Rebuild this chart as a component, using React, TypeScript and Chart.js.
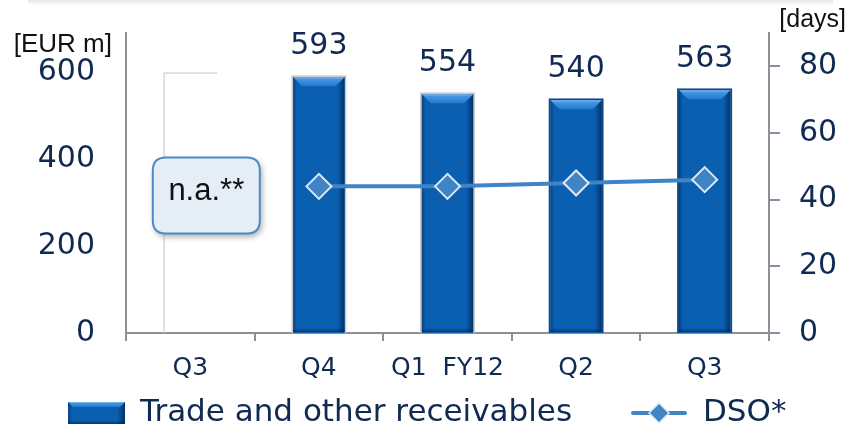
import React, { useEffect, useRef } from 'react';
import { Chart, registerables } from 'chart.js';

Chart.register(...registerables);

// ---- data ----
const categories = ['Q3', 'Q4', 'Q1  FY12', 'Q2', 'Q3'];
const receivables: (number | null)[] = [null, 593, 554, 540, 563];
const dsoDays: (number | null)[] = [null, 44, 44, 45, 46];
const notAvailableFrame: (number | null)[] = [600, null, null, null, null];
const leftTicks = [0, 200, 400, 600];
const rightTicks = [0, 20, 40, 60, 80];
const seriesLabels = ['Trade and other receivables', 'DSO*'];
const leftUnit = '[EUR m]';
const rightUnit = '[days]';
const naText = 'n.a.**';

const NAVY = '#102a52';
const AXIS = '#8e9099';
const LINE = '#3f84c4';
const NUM_FONT = 'DejaVu Sans, Verdana, sans-serif';
const TXT_FONT = 'Liberation Sans, Arial, sans-serif';

function bevel(ctx: CanvasRenderingContext2D, left: number, top: number, right: number, bottom: number, b: number) {
  const w = right - left;
  const h = bottom - top;
  ctx.save();
  ctx.fillStyle = '#0a5fb0';
  ctx.fillRect(left, top, w, h);
  const g = ctx.createLinearGradient(left, 0, right, 0);
  g.addColorStop(0, 'rgba(0,30,80,0.45)');
  g.addColorStop(0.07, 'rgba(0,30,80,0)');
  g.addColorStop(0.86, 'rgba(0,20,60,0)');
  g.addColorStop(1, 'rgba(0,20,60,0.6)');
  ctx.fillStyle = g;
  ctx.fillRect(left, top, w, h);
  // top bevel
  ctx.beginPath();
  ctx.moveTo(left, top);
  ctx.lineTo(right, top);
  ctx.lineTo(right - b, top + b);
  ctx.lineTo(left + b, top + b);
  ctx.closePath();
  const tg = ctx.createLinearGradient(0, top, 0, top + b);
  tg.addColorStop(0, '#8cc2f2');
  tg.addColorStop(0.25, '#4595e2');
  tg.addColorStop(1, '#2379cf');
  ctx.fillStyle = tg;
  ctx.fill();
  // bottom shade
  const bg = ctx.createLinearGradient(0, bottom - 4, 0, bottom);
  bg.addColorStop(0, 'rgba(0,20,60,0)');
  bg.addColorStop(1, 'rgba(0,20,60,0.5)');
  ctx.fillStyle = bg;
  ctx.fillRect(left, bottom - 4, w, 4);
  ctx.restore();
}

function roundRect(ctx: CanvasRenderingContext2D, x: number, y: number, w: number, h: number, r: number) {
  ctx.beginPath();
  ctx.moveTo(x + r, y);
  ctx.lineTo(x + w - r, y);
  ctx.quadraticCurveTo(x + w, y, x + w, y + r);
  ctx.lineTo(x + w, y + h - r);
  ctx.quadraticCurveTo(x + w, y + h, x + w - r, y + h);
  ctx.lineTo(x + r, y + h);
  ctx.quadraticCurveTo(x, y + h, x, y + h - r);
  ctx.lineTo(x, y + r);
  ctx.quadraticCurveTo(x, y, x + r, y);
  ctx.closePath();
}

const decorPlugin = {
  id: 'decor',
  afterDatasetDraw(chart: any, args: any) {
    if (args.index !== 1) return;
    const ctx: CanvasRenderingContext2D = chart.ctx;
    args.meta.data.forEach((el: any, i: number) => {
      if (receivables[i] == null) return;
      const { x, y, base, width } = el.getProps(['x', 'y', 'base', 'width'], true);
      bevel(ctx, x - width / 2 + 2, y + 2, x + width / 2 - 2, base - 1, 9);
    });
  },
  afterDatasetsDraw(chart: any) {
    const ctx: CanvasRenderingContext2D = chart.ctx;
    const meta = chart.getDatasetMeta(1);
    ctx.save();
    ctx.fillStyle = NAVY;
    ctx.font = `30px ${NUM_FONT}`;
    ctx.textAlign = 'center';
    ctx.textBaseline = 'middle';
    meta.data.forEach((el: any, i: number) => {
      const v = receivables[i];
      if (v == null) return;
      ctx.fillText(String(v), el.x, el.y - 29);
    });
    ctx.restore();
  },
  afterDraw(chart: any) {
    const ctx: CanvasRenderingContext2D = chart.ctx;
    const xs = chart.scales.x;
    const ys = chart.scales.y;
    const area = chart.chartArea;
    // n.a. box
    const cx = xs.getPixelForValue(0) + 16;
    const cy = ys.getPixelForValue(316);
    const bw = 107, bh = 76;
    ctx.save();
    ctx.shadowColor = 'rgba(0,0,0,0.35)';
    ctx.shadowBlur = 6;
    ctx.shadowOffsetX = 2;
    ctx.shadowOffsetY = 3;
    roundRect(ctx, cx - bw / 2, cy - bh / 2, bw, bh, 13);
    ctx.fillStyle = '#e5edf6';
    ctx.fill();
    ctx.shadowColor = 'transparent';
    ctx.lineWidth = 2;
    ctx.strokeStyle = '#4f89c6';
    ctx.stroke();
    ctx.fillStyle = '#111111';
    ctx.font = `31px ${TXT_FONT}`;
    ctx.textAlign = 'center';
    ctx.textBaseline = 'middle';
    ctx.fillText(naText, cx, cy - 4);
    ctx.restore();

    // unit labels
    ctx.save();
    ctx.fillStyle = '#111111';
    ctx.font = `26px ${TXT_FONT}`;
    ctx.textBaseline = 'middle';
    ctx.textAlign = 'right';
    ctx.fillText(leftUnit, area.left - 14, area.top + 12);
    ctx.font = `25px ${TXT_FONT}`;
    ctx.textAlign = 'right';
    ctx.fillText(rightUnit, chart.width - 4, area.top - 13);
    ctx.restore();

    // legend
    const ly = 413;
    ctx.save();
    bevel(ctx, 68, 402, 125, 424, 5);
    ctx.fillStyle = NAVY;
    ctx.font = `31px ${NUM_FONT}`;
    ctx.textAlign = 'left';
    ctx.textBaseline = 'middle';
    ctx.fillText(seriesLabels[0], 140, ly);
    ctx.strokeStyle = LINE;
    ctx.lineWidth = 4;
    ctx.lineCap = 'round';
    ctx.beginPath();
    ctx.moveTo(633, ly);
    ctx.lineTo(685, ly);
    ctx.stroke();
    ctx.beginPath();
    ctx.moveTo(659, ly - 10);
    ctx.lineTo(669, ly);
    ctx.lineTo(659, ly + 10);
    ctx.lineTo(649, ly);
    ctx.closePath();
    ctx.fillStyle = LINE;
    ctx.fill();
    ctx.lineWidth = 1.5;
    ctx.strokeStyle = '#dfe9f4';
    ctx.stroke();
    ctx.fillStyle = NAVY;
    ctx.fillText(seriesLabels[1], 703, ly);
    ctx.restore();
  },
};

export default function App() {
  const ref = useRef<HTMLCanvasElement | null>(null);
  useEffect(() => {
    if (!ref.current) return;
    const chart = new Chart(ref.current, {
      type: 'bar',
      data: {
        labels: categories,
        datasets: [
          {
            type: 'line',
            label: seriesLabels[1],
            data: dsoDays,
            yAxisID: 'y1',
            borderColor: LINE,
            borderWidth: 4,
            pointStyle: 'rectRot',
            pointRadius: 12.5,
            pointHoverRadius: 12.5,
            pointBackgroundColor: LINE,
            pointBorderColor: '#dfe9f4',
            pointBorderWidth: 2,
            order: 0,
          } as any,
          {
            type: 'bar',
            label: seriesLabels[0],
            data: receivables,
            yAxisID: 'y',
            backgroundColor: '#0a5fb0',
            borderColor: ['rgba(0,0,0,0)', '#c9c9c9', '#c9c9c9', '#0d4a8a', '#0d4a8a'],
            borderWidth: 2,
            borderSkipped: 'start',
            grouped: false,
            barPercentage: 0.43,
            categoryPercentage: 1,
            order: 1,
          } as any,
          {
            type: 'bar',
            label: '',
            data: notAvailableFrame,
            yAxisID: 'y',
            backgroundColor: 'rgba(0,0,0,0)',
            borderColor: '#d2d2d2',
            borderWidth: { left: 1.5, top: 1.5, right: 0, bottom: 0 },
            borderSkipped: false,
            grouped: false,
            barPercentage: 0.42,
            categoryPercentage: 1,
            order: 2,
          } as any,
        ],
      },
      options: {
        animation: false,
        responsive: false,
        devicePixelRatio: 1,
        layout: { padding: { top: 33, left: 0, right: 0, bottom: 0 } },
        plugins: {
          legend: { display: false },
          tooltip: { enabled: false },
        },
        scales: {
          x: {
            offset: true,
            grid: {
              display: true,
              offset: true,
              drawOnChartArea: false,
              drawTicks: true,
              tickLength: 8,
              color: AXIS,
              lineWidth: 2,
            },
            border: { display: true, color: AXIS, width: 2 },
            ticks: {
              color: NAVY,
              font: { family: NUM_FONT, size: 25 },
              padding: 12,
              maxRotation: 0,
              autoSkip: false,
            },
            afterFit: (s: any) => {
              s.height = 93;
              s.paddingLeft = 0;
              s.paddingRight = 0;
            },
          },
          y: {
            position: 'left',
            min: 0,
            max: 690,
            grid: { display: false, drawTicks: false },
            border: { display: true, color: AXIS, width: 2 },
            ticks: {
              color: NAVY,
              font: { family: NUM_FONT, size: 30 },
              padding: 31,
            },
            afterBuildTicks: (s: any) => {
              s.ticks = leftTicks.map((v) => ({ value: v }));
            },
            afterFit: (s: any) => {
              s.width = 126;
              s.paddingTop = 0;
              s.paddingBottom = 0;
            },
          },
          y1: {
            position: 'right',
            min: 0,
            max: 90,
            grid: {
              display: true,
              drawOnChartArea: false,
              drawTicks: true,
              tickLength: 11,
              color: AXIS,
              lineWidth: 2,
            },
            border: { display: true, color: AXIS, width: 2 },
            ticks: {
              color: NAVY,
              font: { family: NUM_FONT, size: 30 },
              padding: 19,
            },
            afterBuildTicks: (s: any) => {
              s.ticks = rightTicks.map((v) => ({ value: v }));
            },
            afterFit: (s: any) => {
              s.width = 81;
              s.paddingTop = 0;
              s.paddingBottom = 0;
            },
          },
        },
      } as any,
      plugins: [decorPlugin],
    });
    return () => chart.destroy();
  }, []);

  return (
    <div style={{ position: 'absolute', left: 0, top: 0, width: 850, height: 426, background: '#ffffff', overflow: 'hidden' }}>
      <div
        style={{
          position: 'absolute',
          left: 28,
          top: 0,
          width: 805,
          height: 5,
          background: 'linear-gradient(to bottom, rgba(0,0,0,0.10), rgba(0,0,0,0))',
        }}
      />
      <canvas ref={ref} width={850} height={426} style={{ position: 'absolute', left: 0, top: 0, width: 850, height: 426 }} />
    </div>
  );
}
